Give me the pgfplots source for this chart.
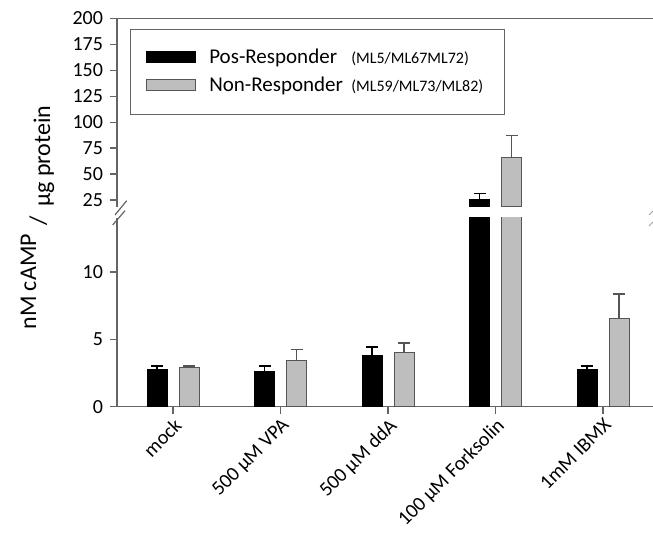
\documentclass[border=0pt]{standalone}
\usepackage{fontspec}
\setmainfont{Carlito}
\usepackage{pgfplots}
\usepackage{pgfplotstable}
\pgfplotsset{compat=1.18}
\definecolor{bargray}{RGB}{190,190,190}
\definecolor{edgegray}{RGB}{85,85,85}
\definecolor{axisgray}{RGB}{100,100,100}

% all treatments (lower, 0-14 part of the broken axis)
\pgfplotstableread{
x yB eB yG eG
0 2.77 0.24 2.89 0.12
1 2.64 0.37 3.46 0.79
2 3.81 0.61 4.03 0.69
3 25.7 5.3 66.1 20.8
4 2.77 0.24 6.55 1.80
}\datatable
% the one treatment that reaches the upper part
\pgfplotstableread{
x yB eB yG eG
3 25.7 5.3 66.1 20.8
}\uppertable

\pgfplotsset{
 common/.style={
  scale only axis, width=268pt, height=94.35pt,
  xmin=-0.521, xmax=4.465,
  ybar=6pt, bar width=10pt,
  axis line style={axisgray, line width=0.6pt},
  tick style={axisgray, line width=0.6pt},
  major tick length=3.5pt,
  tick align=outside,
  /pgf/number format/assume math mode=true,
  ticklabel style={font=\fontsize{10}{12}\selectfont},
  clip=true,
 },
 mylegend/.style={legend image code/.code={\draw[##1] (0pt,-2.1pt) rectangle (24.5pt,3.4pt); \path (31.35pt,0pt);}},
 blackbar/.style={fill=black, draw=black, line width=0.5pt, mylegend,
   error bars/.cd, y dir=plus, y explicit, error bar style={line width=0.65pt, black}, error mark options={rotate=90, line width=0.65pt, black, mark size=3pt}},
 graybar/.style={fill=bargray, draw=edgegray, line width=0.5pt, mylegend,
   error bars/.cd, y dir=plus, y explicit, error bar style={line width=0.65pt, edgegray}, error mark options={rotate=90, line width=0.65pt, edgegray, mark size=3pt}},
}

\begin{document}
\begin{tikzpicture}
\useasboundingbox (0pt,0pt) rectangle (326.5pt,266.5pt);

% lower part
\begin{axis}[common, at={(58.5pt,63.15pt)}, anchor=south west,
  ymin=0, ymax=14, ytick={0,5,10},
  axis x line*=bottom, axis y line*=left,
  xtick={0,1,2,3,4},
  xticklabels={mock, 500 µM VPA, 500 µM ddA, 100 µM Forksolin, 1mM IBMX},
  xticklabel style={rotate=45, anchor=north east, inner sep=1pt}]
\addplot[blackbar] table[x=x, y=yB, y error=eB] {\datatable};
\addplot[graybar] table[x=x, y=yG, y error=eG] {\datatable};
\end{axis}

% upper part
\begin{axis}[common, at={(58.5pt,163pt)}, anchor=south west,
  ymin=18.26, ymax=200, ytick={25,50,...,200},
  axis x line*=top, axis y line*=left,
  xtick=\empty,
  legend cell align=left,
  legend style={at={(0.02425,0.9433)}, anchor=north west, draw=axisgray, line width=0.6pt,
    inner xsep=7.5pt, inner ysep=9.25pt, row sep=4.15pt,
    nodes={inner sep=0pt, text height=7.5pt, text depth=2.5pt, font=\fontsize{10.5}{12}\selectfont}}]
\addplot[blackbar] table[x=x, y=yB, y error=eB] {\uppertable};
\addlegendentry{\makebox[140pt][l]{\makebox[71pt][l]{Pos-Responder}{\fontsize{8}{9}\selectfont(ML5/ML67ML72)}}}
\addplot[graybar] table[x=x, y=yG, y error=eG] {\uppertable};
\addlegendentry{\makebox[140pt][l]{\makebox[71pt][l]{Non-Responder}{\fontsize{8}{9}\selectfont(ML59/ML73/ML82)}}}
\end{axis}

% axis break marks
\draw[axisgray, line width=0.6pt] (57.5pt,159pt) -- (63.35pt,166.15pt);
\draw[axisgray, line width=0.6pt] (56.35pt,154pt) -- (62.5pt,161.15pt);
\draw[axisgray!60, line width=0.5pt] (324.5pt,159pt) -- (327.5pt,162pt);
\draw[axisgray!60, line width=0.5pt] (324.5pt,153.5pt) -- (327.5pt,156.5pt);

% y label
\node[rotate=90, anchor=base west, inner sep=0pt, font=\fontsize{12}{14}\selectfont] at (18pt,101.5pt)
  {nM cAMP\hspace{4.5pt}\raisebox{-5pt}{/}\hspace{4.5pt}\raisebox{-7pt}{µg protein}};
\end{tikzpicture}
\end{document}
